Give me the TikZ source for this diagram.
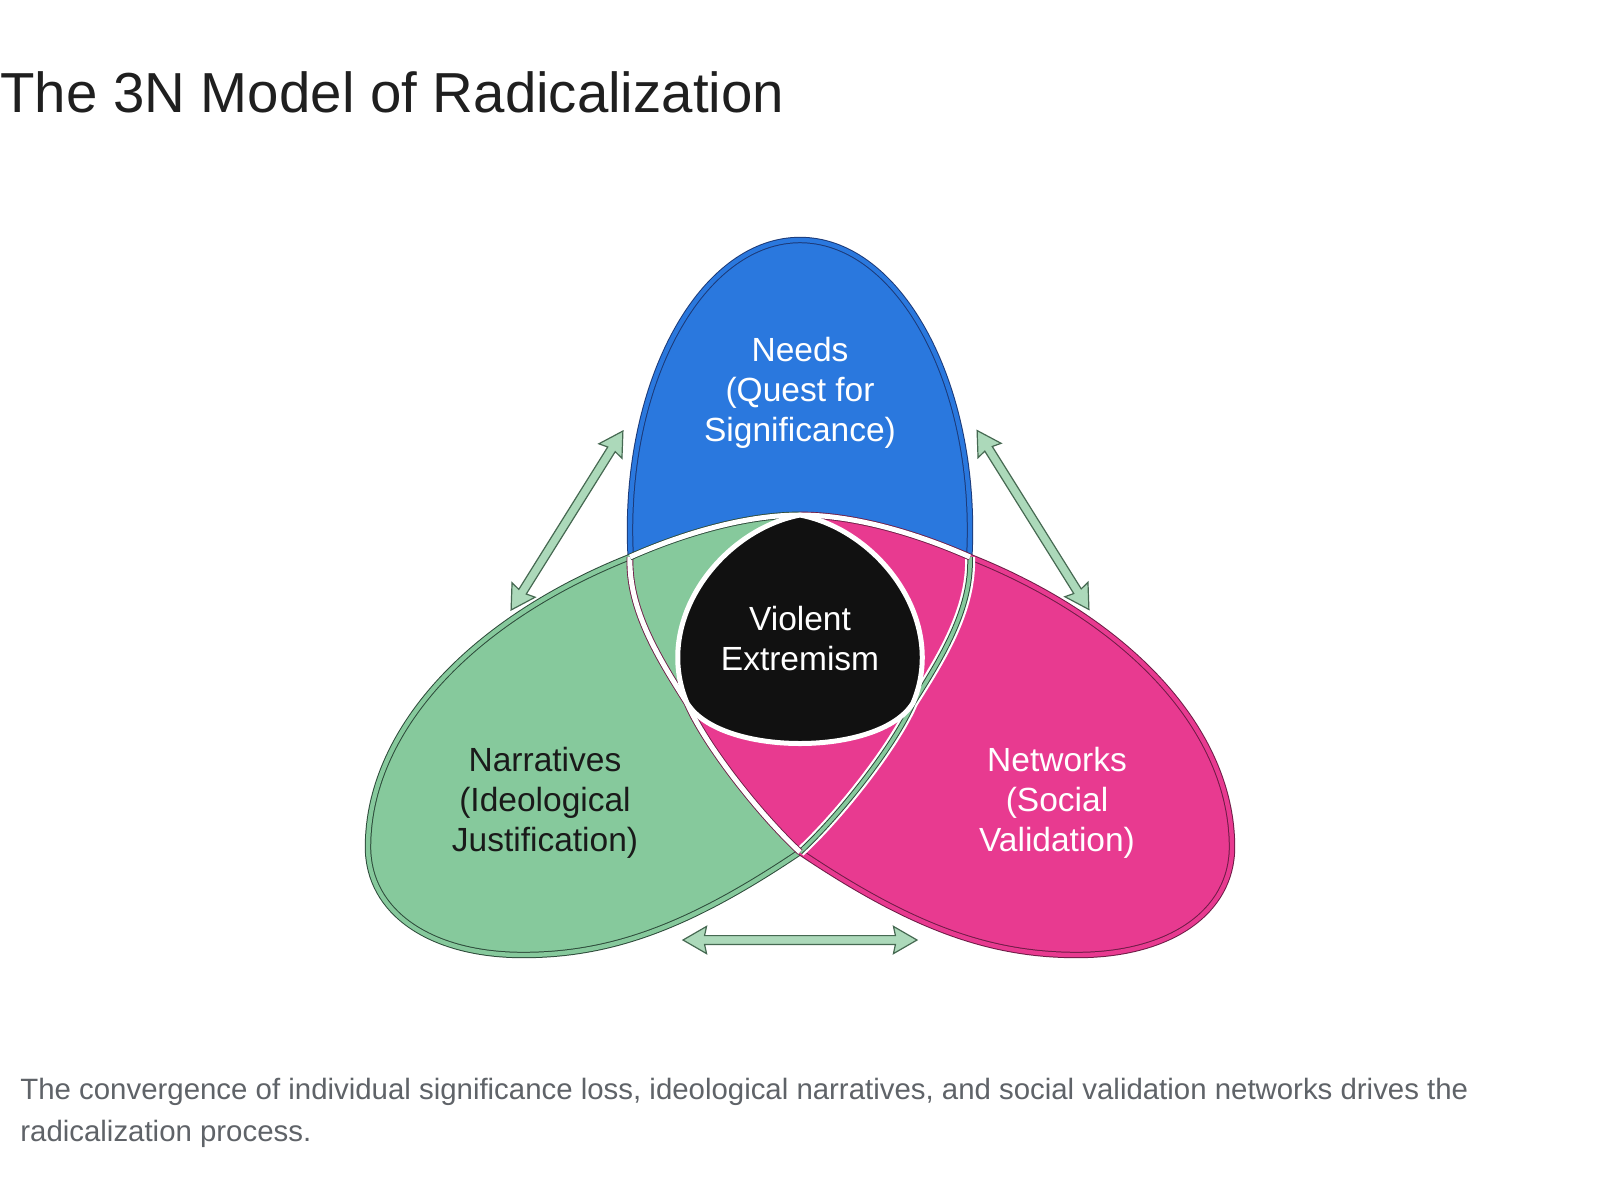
\documentclass[tikz,border=0pt]{standalone}
\usepackage{fontspec}
\setmainfont{Liberation Sans}
\usetikzlibrary{shapes.arrows}
\definecolor{bfill}{RGB}{42,120,222}
\definecolor{bline}{RGB}{28,58,120}
\definecolor{gfill}{RGB}{134,201,156}
\definecolor{gline}{RGB}{45,75,58}
\definecolor{pfill}{RGB}{232,58,144}
\definecolor{pline}{RGB}{110,28,70}
\definecolor{afill}{RGB}{172,217,186}
\definecolor{aline}{RGB}{70,105,82}
\definecolor{titlecol}{RGB}{31,31,31}
\definecolor{capcol}{RGB}{95,99,104}
\definecolor{coreblack}{RGB}{17,17,17}
\definecolor{darktext}{RGB}{26,26,26}
\begin{document}
\begin{tikzpicture}[x=0.5pt,y=-0.5pt,
  lbl/.style={align=center, font=\fontsize{16.75pt}{20pt}\selectfont, inner sep=0pt},
  rim/.style={double=#1, double distance=2.2pt, line width=0.5pt},
  seam/.style={draw=#1, double=white, double distance=2.5pt, line width=0.45pt},
  arr/.style={double arrow, draw=aline, fill=afill, line width=0.6pt,
    inner xsep=0pt, inner ysep=1.9pt, double arrow head extend=4.6pt,
    double arrow tip angle=60, double arrow head indent=1pt, minimum height=#1},
  captxt/.style={anchor=base west, inner sep=0pt, text=capcol, font=\fontsize{14.7pt}{21pt}\selectfont},
]
% segment tails: T=(800,515) GL=(630,557) PR=(970,557) X=(800,852) CL=(687,703) CR=(913,703)
\def\Sone{.. controls (745,515) and (682,534) .. (630,557)}
\def\Soner{.. controls (682,534) and (745,515) .. (800,515)}
\def\Stwo{.. controls (855,515) and (918,534) .. (970,557)}
\def\Stwor{.. controls (918,534) and (855,515) .. (800,515)}
\def\Sthree{.. controls (469,621) and (368,732) .. (368,847) .. controls (368,912) and (430,955) .. (523,955) .. controls (612,955) and (690,926) .. (800,852)}
\def\Sfour{.. controls (1131,621) and (1232,732) .. (1232,847) .. controls (1232,912) and (1170,955) .. (1077,955) .. controls (988,955) and (910,926) .. (800,852)}
\def\Sfive{.. controls (760,815) and (705,745) .. (687,703) .. controls (660,660) and (628,610) .. (630,557)}
\def\Ssix{.. controls (840,815) and (895,745) .. (913,703) .. controls (940,660) and (972,610) .. (970,557)}
\def\greenpath{(800,515) \Sone \Sthree \Ssix \Stwor -- cycle}
\def\pinkpath{(800,515) \Stwo \Sfour \Sfive \Soner -- cycle}
\def\bluepath{(800,530) ellipse [x radius=85pt, y radius=145pt]}
\def\corepath{(800,515) .. controls (722,530) and (652,620) .. (687,703) .. controls (720,757) and (880,757) .. (913,703) .. controls (948,620) and (878,530) .. cycle}

\useasboundingbox (0,0) rectangle (1600,1200);
\fill[white] (0,0) rectangle (1600,1200);

% blue
\fill[bfill] \bluepath;
\draw[bline, rim=bfill] \bluepath;

% green and pink fills
\fill[gfill] \greenpath;
\fill[pfill] \pinkpath;
\begin{scope}
  \clip (0,0) rectangle (800,705);
  \fill[gfill] \pinkpath;
\end{scope}

% outer rims
\draw[gline, rim=gfill] (630,557) \Sthree;
\draw[pline, rim=pfill] (970,557) \Sfour;

% right arm (green boundary inside pink)
\draw[white, line width=5pt] (800,852) \Ssix;
\draw[gline, double=gfill, double distance=1.8pt, line width=0.5pt] (800,852) \Ssix;
% left arm (pink boundary inside green)
\draw[seam=pline] (800,852) \Sfive;
% top arcs
\draw[seam=gline] (800,515) \Sone;
\draw[seam=pline] (800,515) \Stwo;

% core
\filldraw[fill=coreblack, draw=white, line width=2.5pt] \corepath;

% labels
\node[lbl, text=white] (needs) at (800,393) {Needs\\(Quest for\\Significance)};
\node[lbl, text=white] (core) at (800,639) {Violent\\Extremism};
\node[lbl, text=darktext] (narr) at (545,803) {Narratives\\(Ideological\\Justification)};
\node[lbl, text=white] (netw) at (1057,803) {Networks\\(Social\\Validation)};

% arrows
\node[arr=105.5pt, rotate=58] (arrNG) at (567,520.5) {};
\node[arr=105.5pt, rotate=-58] (arrNP) at (1033,520) {};
\node[arr=117pt] (arrGP) at (800,940) {};

% title and caption
\node[anchor=base west, inner sep=0pt, text=titlecol, font=\fontsize{28.2pt}{34pt}\selectfont] (title) at (0,112) {The 3N Model of Radicalization};
\node[captxt] (cap1) at (20,1099) {The convergence of individual significance loss, ideological narratives, and social validation networks drives the};
\node[captxt] (cap2) at (20,1141) {radicalization process.};
\end{tikzpicture}
\end{document}
